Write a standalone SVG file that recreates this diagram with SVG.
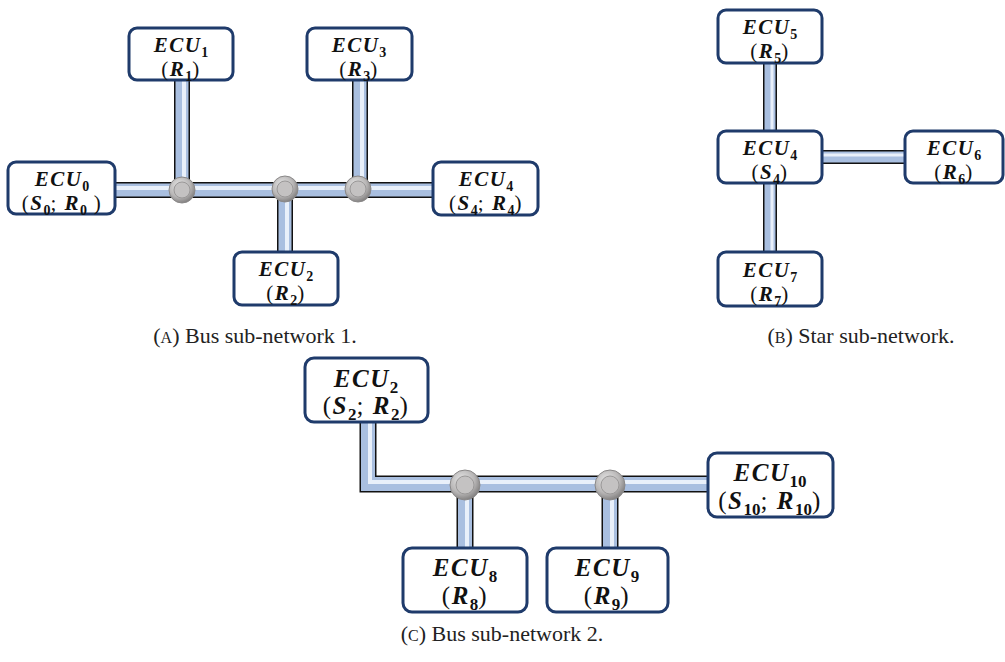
<svg xmlns="http://www.w3.org/2000/svg" width="1005" height="662" viewBox="0 0 1005 662">
<defs>
<radialGradient id="jg" cx="0.4" cy="0.35" r="0.7">
<stop offset="0" stop-color="#e8e8e8"/>
<stop offset="0.6" stop-color="#b8b6b6"/>
<stop offset="1" stop-color="#7a7878"/>
</radialGradient>
<style>
.box{fill:#ffffff;stroke:#1f3b6b;stroke-width:3}
.t1{fill:none;stroke:#111;stroke-linejoin:miter;stroke-linecap:butt}
.t2{fill:none;stroke:#a9bfe0;stroke-linejoin:miter;stroke-linecap:butt}
.t3{fill:none;stroke:#e9f0fa;stroke-linejoin:miter;stroke-linecap:butt}
.j{fill:url(#jg);stroke:#8a8888;stroke-width:1}
.ji{fill:#c4c2c2;stroke:#9a9898;stroke-width:1}
.lbl{font-family:"Liberation Serif",serif;font-weight:bold;font-style:italic;text-anchor:middle;fill:#111;letter-spacing:1.5px}
.s{font-size:21px}
.b{font-size:25px}
.up{font-style:normal;font-weight:normal}
.sb{font-style:normal;font-weight:bold;letter-spacing:0}
.cap{font-family:"Liberation Serif",serif;font-size:22px;fill:#222;text-anchor:middle}
</style>
</defs>
<rect width="1005" height="662" fill="#ffffff"/>

<g id="connectors">
<!-- bus 1 -->
<g>
<path class="t1" stroke-width="16" d="M115 190H433M182 80V190M360 80V190M285 190V252"/>
<path class="t2" stroke-width="13" d="M115 190H433M182 80V190M360 80V190M285 190V252"/>
<path class="t3" stroke-width="4" d="M115 188H433M184 80V190M362 80V190M287 190V252"/>
</g>
<!-- star -->
<g>
<path class="t1" stroke-width="14" d="M770 63V131M770 183V252M822 157H905"/>
<path class="t2" stroke-width="11" d="M770 63V131M770 183V252M822 157H905"/>
<path class="t3" stroke-width="3" d="M772 63V131M772 183V252M822 155H905"/>
</g>
<!-- bus 2 -->
<g>
<path class="t1" stroke-width="17" d="M368 422V484H708M465 484V548M610 484V548"/>
<path class="t2" stroke-width="14" d="M368 422V484H708M465 484V548M610 484V548"/>
<path class="t3" stroke-width="4" d="M370 422V482H708M467 484V548M612 484V548"/>
</g>
</g>

<g id="junctions">
<g id="j1"><circle class="j" cx="182" cy="190" r="13"/><circle class="ji" cx="182" cy="190" r="8"/></g>
<g id="j2"><circle class="j" cx="285" cy="189" r="13"/><circle class="ji" cx="285" cy="189" r="8"/></g>
<g id="j3"><circle class="j" cx="358" cy="189" r="13"/><circle class="ji" cx="358" cy="189" r="8"/></g>
<g id="j4"><circle class="j" cx="465" cy="485" r="15"/><circle class="ji" cx="465" cy="485" r="9"/></g>
<g id="j5"><circle class="j" cx="610" cy="485" r="15"/><circle class="ji" cx="610" cy="485" r="9"/></g>
</g>

<!-- Bus sub-network 1 -->
<g id="ecu0">
<rect class="box" x="8" y="162" width="107" height="52" rx="8"/>
<text class="lbl s" x="62" y="186">ECU<tspan class="sb" font-size="14" dy="5">0</tspan></text>
<text class="lbl s" x="62" y="210"><tspan class="up">(</tspan>S<tspan class="sb" font-size="14" dy="5">0</tspan><tspan class="up" dy="-5">;</tspan> R<tspan class="sb" font-size="14" dy="5">0</tspan><tspan class="up" dy="-5"> )</tspan></text>
</g>
<g id="ecu1">
<rect class="box" x="129" y="28" width="104" height="52" rx="8"/>
<text class="lbl s" x="181" y="52">ECU<tspan class="sb" font-size="14" dy="5">1</tspan></text>
<text class="lbl s" x="181" y="76"><tspan class="up">(</tspan>R<tspan class="sb" font-size="14" dy="5">1</tspan><tspan class="up" dy="-5">)</tspan></text>
</g>
<g id="ecu2">
<rect class="box" x="234" y="252" width="104" height="53" rx="8"/>
<text class="lbl s" x="286" y="276">ECU<tspan class="sb" font-size="14" dy="5">2</tspan></text>
<text class="lbl s" x="286" y="300"><tspan class="up">(</tspan>R<tspan class="sb" font-size="14" dy="5">2</tspan><tspan class="up" dy="-5">)</tspan></text>
</g>
<g id="ecu3">
<rect class="box" x="307" y="28" width="105" height="52" rx="8"/>
<text class="lbl s" x="359" y="52">ECU<tspan class="sb" font-size="14" dy="5">3</tspan></text>
<text class="lbl s" x="359" y="76"><tspan class="up">(</tspan>R<tspan class="sb" font-size="14" dy="5">3</tspan><tspan class="up" dy="-5">)</tspan></text>
</g>
<g id="ecu4">
<rect class="box" x="433" y="162" width="105" height="53" rx="8"/>
<text class="lbl s" x="486" y="186">ECU<tspan class="sb" font-size="14" dy="5">4</tspan></text>
<text class="lbl s" x="486" y="210"><tspan class="up">(</tspan>S<tspan class="sb" font-size="14" dy="5">4</tspan><tspan class="up" dy="-5">;</tspan> R<tspan class="sb" font-size="14" dy="5">4</tspan><tspan class="up" dy="-5">)</tspan></text>
</g>

<!-- Star sub-network -->
<g id="star-ecu5">
<rect class="box" x="718" y="10" width="104" height="53" rx="8"/>
<text class="lbl s" x="770" y="34">ECU<tspan class="sb" font-size="14" dy="5">5</tspan></text>
<text class="lbl s" x="770" y="58"><tspan class="up">(</tspan>R<tspan class="sb" font-size="14" dy="5">5</tspan><tspan class="up" dy="-5">)</tspan></text>
</g>
<g id="star-ecu4">
<rect class="box" x="718" y="131" width="104" height="52" rx="8"/>
<text class="lbl s" x="770" y="155">ECU<tspan class="sb" font-size="14" dy="5">4</tspan></text>
<text class="lbl s" x="770" y="179"><tspan class="up">(</tspan>S<tspan class="sb" font-size="14" dy="5">4</tspan><tspan class="up" dy="-5">)</tspan></text>
</g>
<g id="star-ecu6">
<rect class="box" x="905" y="131" width="98" height="52" rx="8"/>
<text class="lbl s" x="954" y="155">ECU<tspan class="sb" font-size="14" dy="5">6</tspan></text>
<text class="lbl s" x="954" y="179"><tspan class="up">(</tspan>R<tspan class="sb" font-size="14" dy="5">6</tspan><tspan class="up" dy="-5">)</tspan></text>
</g>
<g id="star-ecu7">
<rect class="box" x="718" y="252" width="104" height="54" rx="8"/>
<text class="lbl s" x="770" y="277">ECU<tspan class="sb" font-size="14" dy="5">7</tspan></text>
<text class="lbl s" x="770" y="301"><tspan class="up">(</tspan>R<tspan class="sb" font-size="14" dy="5">7</tspan><tspan class="up" dy="-5">)</tspan></text>
</g>

<!-- Bus sub-network 2 -->
<g id="bus2-ecu2">
<rect class="box" x="305" y="358" width="123" height="64" rx="9"/>
<text class="lbl b" x="366" y="387">ECU<tspan class="sb" font-size="17" dy="6">2</tspan></text>
<text class="lbl b" x="366" y="414"><tspan class="up">(</tspan>S<tspan class="sb" font-size="17" dy="6">2</tspan><tspan class="up" dy="-6">;</tspan> R<tspan class="sb" font-size="17" dy="6">2</tspan><tspan class="up" dy="-6">)</tspan></text>
</g>
<g id="ecu10">
<rect class="box" x="708" y="453" width="125" height="64" rx="9"/>
<text class="lbl b" x="770" y="481">ECU<tspan class="sb" font-size="17" dy="6">10</tspan></text>
<text class="lbl b" x="770" y="509"><tspan class="up">(</tspan>S<tspan class="sb" font-size="17" dy="6">10</tspan><tspan class="up" dy="-6">;</tspan> R<tspan class="sb" font-size="17" dy="6">10</tspan><tspan class="up" dy="-6">)</tspan></text>
</g>
<g id="ecu8">
<rect class="box" x="403" y="548" width="124" height="64" rx="9"/>
<text class="lbl b" x="465" y="576">ECU<tspan class="sb" font-size="17" dy="6">8</tspan></text>
<text class="lbl b" x="465" y="604"><tspan class="up">(</tspan>R<tspan class="sb" font-size="17" dy="6">8</tspan><tspan class="up" dy="-6">)</tspan></text>
</g>
<g id="ecu9">
<rect class="box" x="547" y="548" width="121" height="64" rx="9"/>
<text class="lbl b" x="607" y="576">ECU<tspan class="sb" font-size="17" dy="6">9</tspan></text>
<text class="lbl b" x="607" y="604"><tspan class="up">(</tspan>R<tspan class="sb" font-size="17" dy="6">9</tspan><tspan class="up" dy="-6">)</tspan></text>
</g>

<g id="captions">
<text class="cap" x="255" y="343">(<tspan font-size="16">A</tspan>) Bus sub-network 1.</text>
<text class="cap" x="861" y="343">(<tspan font-size="16">B</tspan>) Star sub-network.</text>
<text class="cap" x="502" y="641">(<tspan font-size="16">C</tspan>) Bus sub-network 2.</text>
</g>
</svg>
